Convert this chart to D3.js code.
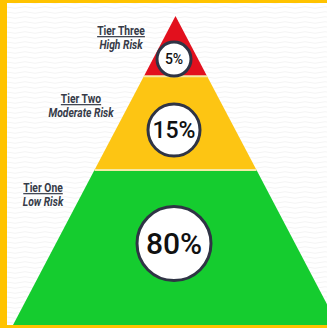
<!DOCTYPE html>
<html>
<head>
<meta charset="utf-8">
<script src="https://cdn.jsdelivr.net/npm/d3@7"></script>
<style>
  html, body { margin: 0; padding: 0; background: #fff; }
  svg { display: block; }
  .tier-name { font-family: Roboto, "Liberation Sans", sans-serif; font-weight: bold; font-size: 12px; fill: #363b48; text-decoration: underline; }
  .tier-risk { font-family: Roboto, "Liberation Sans", sans-serif; font-weight: bold; font-style: italic; font-size: 12px; fill: #363b48; }
  .pct { font-family: Roboto, "Liberation Sans", sans-serif; font-weight: 500; fill: #111; }
</style>
</head>
<body>
<div id="chart"></div>
<script>
// Risk tier pyramid, top to bottom

// data
const tiers = ['Tier Three', 'Tier Two', 'Tier One'];
const risks = ['High Risk', 'Moderate Risk', 'Low Risk'];
const shares = [5, 15, 80];
const colors = ['#e2101d', '#fdc513', '#15cc2f'];

// layout (fractions of pyramid depth, badge sizes)
const bandEdges = [0, 0.194, 0.497, 1];
const circleDepth = [0.139, 0.368, 0.734];
const badgeRadius = [17, 26, 37];
const badgeFont = [14, 23, 30];
const labelPos = [
  { x: 121, y: 35 },
  { x: 81, y: 103 },
  { x: 43, y: 192 },
];

const width = 327;
const height = 328;

const svg = d3.select('#chart').append('svg')
  .attr('width', width)
  .attr('height', height);

// faint wavy background texture
const defs = svg.append('defs');
const pat = defs.append('pattern')
  .attr('id', 'waves')
  .attr('patternUnits', 'userSpaceOnUse')
  .attr('width', 20)
  .attr('height', 5);
pat.append('path')
  .attr('d', 'M0 2.5 Q5 1 10 2.5 T20 2.5')
  .attr('fill', 'none')
  .attr('stroke', '#f4f4f4')
  .attr('stroke-width', 1);

svg.append('rect')
  .attr('width', width)
  .attr('height', height)
  .attr('fill', '#fff');
svg.append('rect')
  .attr('width', width)
  .attr('height', height)
  .attr('fill', 'url(#waves)');

// pyramid scales
const apexX = 175.5;
const halfBase = 163;
const yScale = d3.scaleLinear().domain([0, 1]).range([16, 326]);
const halfW = d3.scaleLinear().domain([0, 1]).range([0, halfBase]);

const bands = tiers.map((t, i) => ({
  tier: t,
  risk: risks[i],
  share: shares[i],
  color: colors[i],
  d0: bandEdges[i],
  d1: bandEdges[i + 1],
  dc: circleDepth[i],
  r: badgeRadius[i],
  fs: badgeFont[i],
  label: labelPos[i],
}));

const pyramid = svg.append('g');

pyramid.selectAll('path.band')
  .data(bands)
  .join('path')
  .attr('class', 'band')
  .attr('fill', d => d.color)
  .attr('d', d => {
    const pts = [
      [apexX - halfW(d.d0), yScale(d.d0)],
      [apexX + halfW(d.d0), yScale(d.d0)],
      [apexX + halfW(d.d1), yScale(d.d1)],
      [apexX - halfW(d.d1), yScale(d.d1)],
    ];
    return d3.line()(pts) + 'Z';
  });

// pale separators between tiers
pyramid.selectAll('line.sep')
  .data(bandEdges.slice(1, -1))
  .join('line')
  .attr('class', 'sep')
  .attr('x1', d => apexX - halfW(d))
  .attr('x2', d => apexX + halfW(d))
  .attr('y1', d => yScale(d))
  .attr('y2', d => yScale(d))
  .attr('stroke', '#f4eaa6')
  .attr('stroke-width', 2);

// percentage badges
const badges = svg.append('g').selectAll('g')
  .data(bands)
  .join('g')
  .attr('transform', d => `translate(174 ${yScale(d.dc)})`);

badges.append('circle')
  .attr('r', d => d.r)
  .attr('fill', '#fff')
  .attr('stroke', '#2f3445')
  .attr('stroke-width', 3);

badges.append('text')
  .attr('class', 'pct')
  .attr('text-anchor', 'middle')
  .attr('dy', '0.36em')
  .attr('font-size', d => d.fs)
  .attr('font-weight', d => d.share < 10 ? 'bold' : 500)
  .attr('fill', d => d.share < 10 ? '#2f3445' : '#111')
  .text(d => d.share + '%');

// tier labels, squeezed to mimic the condensed face
const labels = svg.append('g').selectAll('g')
  .data(bands)
  .join('g')
  .attr('transform', d => `translate(${d.label.x} ${d.label.y}) scale(0.86 1)`);

labels.append('text')
  .attr('class', 'tier-name')
  .attr('text-anchor', 'middle')
  .text(d => d.tier);

labels.append('text')
  .attr('class', 'tier-risk')
  .attr('text-anchor', 'middle')
  .attr('y', 14)
  .text(d => d.risk);

// yellow frame (left, top, bottom)
const frame = svg.append('g').attr('fill', '#ffc300');
frame.append('rect').attr('x', 0).attr('y', 0).attr('width', 7).attr('height', height);
frame.append('rect').attr('x', 0).attr('y', 0).attr('width', width).attr('height', 3);
frame.append('rect').attr('x', 0).attr('y', 325).attr('width', width).attr('height', 3);
</script>
</body>
</html>
